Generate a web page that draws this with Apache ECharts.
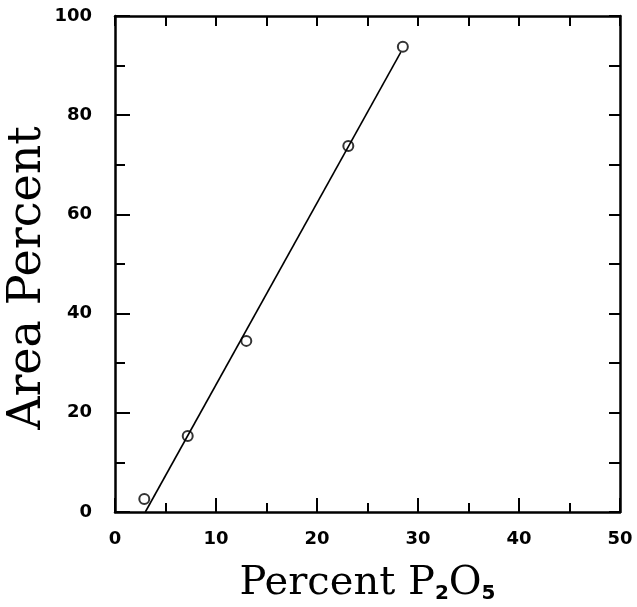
<!DOCTYPE html>
<html>
<head>
<meta charset="utf-8">
<script src="https://cdn.jsdelivr.net/npm/echarts@6/dist/echarts.min.js"></script>
<style>
html,body{margin:0;padding:0;background:#fff;}
#chartDiv{width:637px;height:607px;}
</style>
</head>
<body>
<div id="chartDiv"></div>
<script>
// measured points (percent P2O5, area percent)
var p2o5Pct = [2.9, 7.2, 13.0, 23.1, 28.5];
var areaPct = [2.6, 15.3, 34.5, 73.8, 93.8];
// fitted line end points
var fitX = [3.0, 28.3];
var fitY = [0, 92.7];

var xTicks = [0, 10, 20, 30, 40, 50];
var yTicks = [0, 20, 40, 60, 80, 100];

var pointData = [];
for (var i = 0; i < p2o5Pct.length; i++) {
	pointData.push([p2o5Pct[i], areaPct[i]]);
}
var lineData = [];
for (var j = 0; j < fitX.length; j++) {
	lineData.push([fitX[j], fitY[j]]);
}

var tickFont = {color:'#000', fontFamily:'DejaVu Sans', fontWeight:'bold', fontSize:18};
var axisLine = {show:true, onZero:false, lineStyle:{color:'#000', width:2.5}};

var myChart = echarts.init(document.getElementById('chartDiv'));
var option = {
	animation: false,
	backgroundColor: '#fff',
	grid: {left:115, right:17, top:16, bottom:95, outerBoundsMode:'none', containLabel:false},
	xAxis: [
		{
			type: 'value', position: 'bottom',
			min: xTicks[0], max: xTicks[xTicks.length - 1], interval: 10,
			axisLine: axisLine,
			axisTick: {inside:true, length:14, lineStyle:{color:'#000', width:2}},
			minorTick: {show:true, splitNumber:2, length:9, lineStyle:{color:'#000', width:2}},
			splitLine: {show:false},
			axisLabel: Object.assign({margin:18}, tickFont),
			name: '{m|Percent P}{s|2}{m|O}{s|5}',
			nameLocation: 'middle',
			nameGap: 50,
			nameMoveOverlap: false,
			nameTextStyle: {
				rich: {
					m: {fontFamily:'DejaVu Serif', fontSize:40, color:'#000', verticalAlign:'bottom', lineHeight:42},
					s: {fontFamily:'DejaVu Sans', fontWeight:'bold', fontSize:20, color:'#000', verticalAlign:'bottom', lineHeight:22}
				}
			}
		},
		{
			type: 'value', position: 'top',
			min: 0, max: 50, interval: 5,
			axisLine: axisLine,
			axisTick: {inside:true, length:10, lineStyle:{color:'#000', width:2}},
			axisLabel: {show:false},
			splitLine: {show:false}
		}
	],
	yAxis: [
		{
			type: 'value', position: 'left',
			min: yTicks[0], max: yTicks[yTicks.length - 1], interval: 20,
			axisLine: axisLine,
			axisTick: {inside:true, length:15, lineStyle:{color:'#000', width:2}},
			minorTick: {show:true, splitNumber:2, length:10, lineStyle:{color:'#000', width:2}},
			splitLine: {show:false},
			axisLabel: Object.assign({margin:23}, tickFont),
			name: 'Area Percent',
			nameLocation: 'middle',
			nameRotate: 90,
			nameGap: 64,
			nameMoveOverlap: false,
			nameTextStyle: {fontFamily:'DejaVu Serif', fontSize:46, color:'#000', padding:[0,28,0,0]}
		},
		{
			type: 'value', position: 'right',
			min: 0, max: 100, interval: 10,
			axisLine: axisLine,
			axisTick: {inside:true, length:11, lineStyle:{color:'#000', width:2}},
			axisLabel: {show:false},
			splitLine: {show:false}
		}
	],
	series: [
		{
			type: 'line',
			data: lineData,
			symbol: 'none',
			lineStyle: {color:'#000', width:1.6}
		},
		{
			type: 'scatter',
			data: pointData,
			symbol: 'circle',
			symbolSize: 10,
			itemStyle: {color:'#fff', borderColor:'#000', borderWidth:2}
		}
	]
};
myChart.setOption(option);
</script>
</body>
</html>
